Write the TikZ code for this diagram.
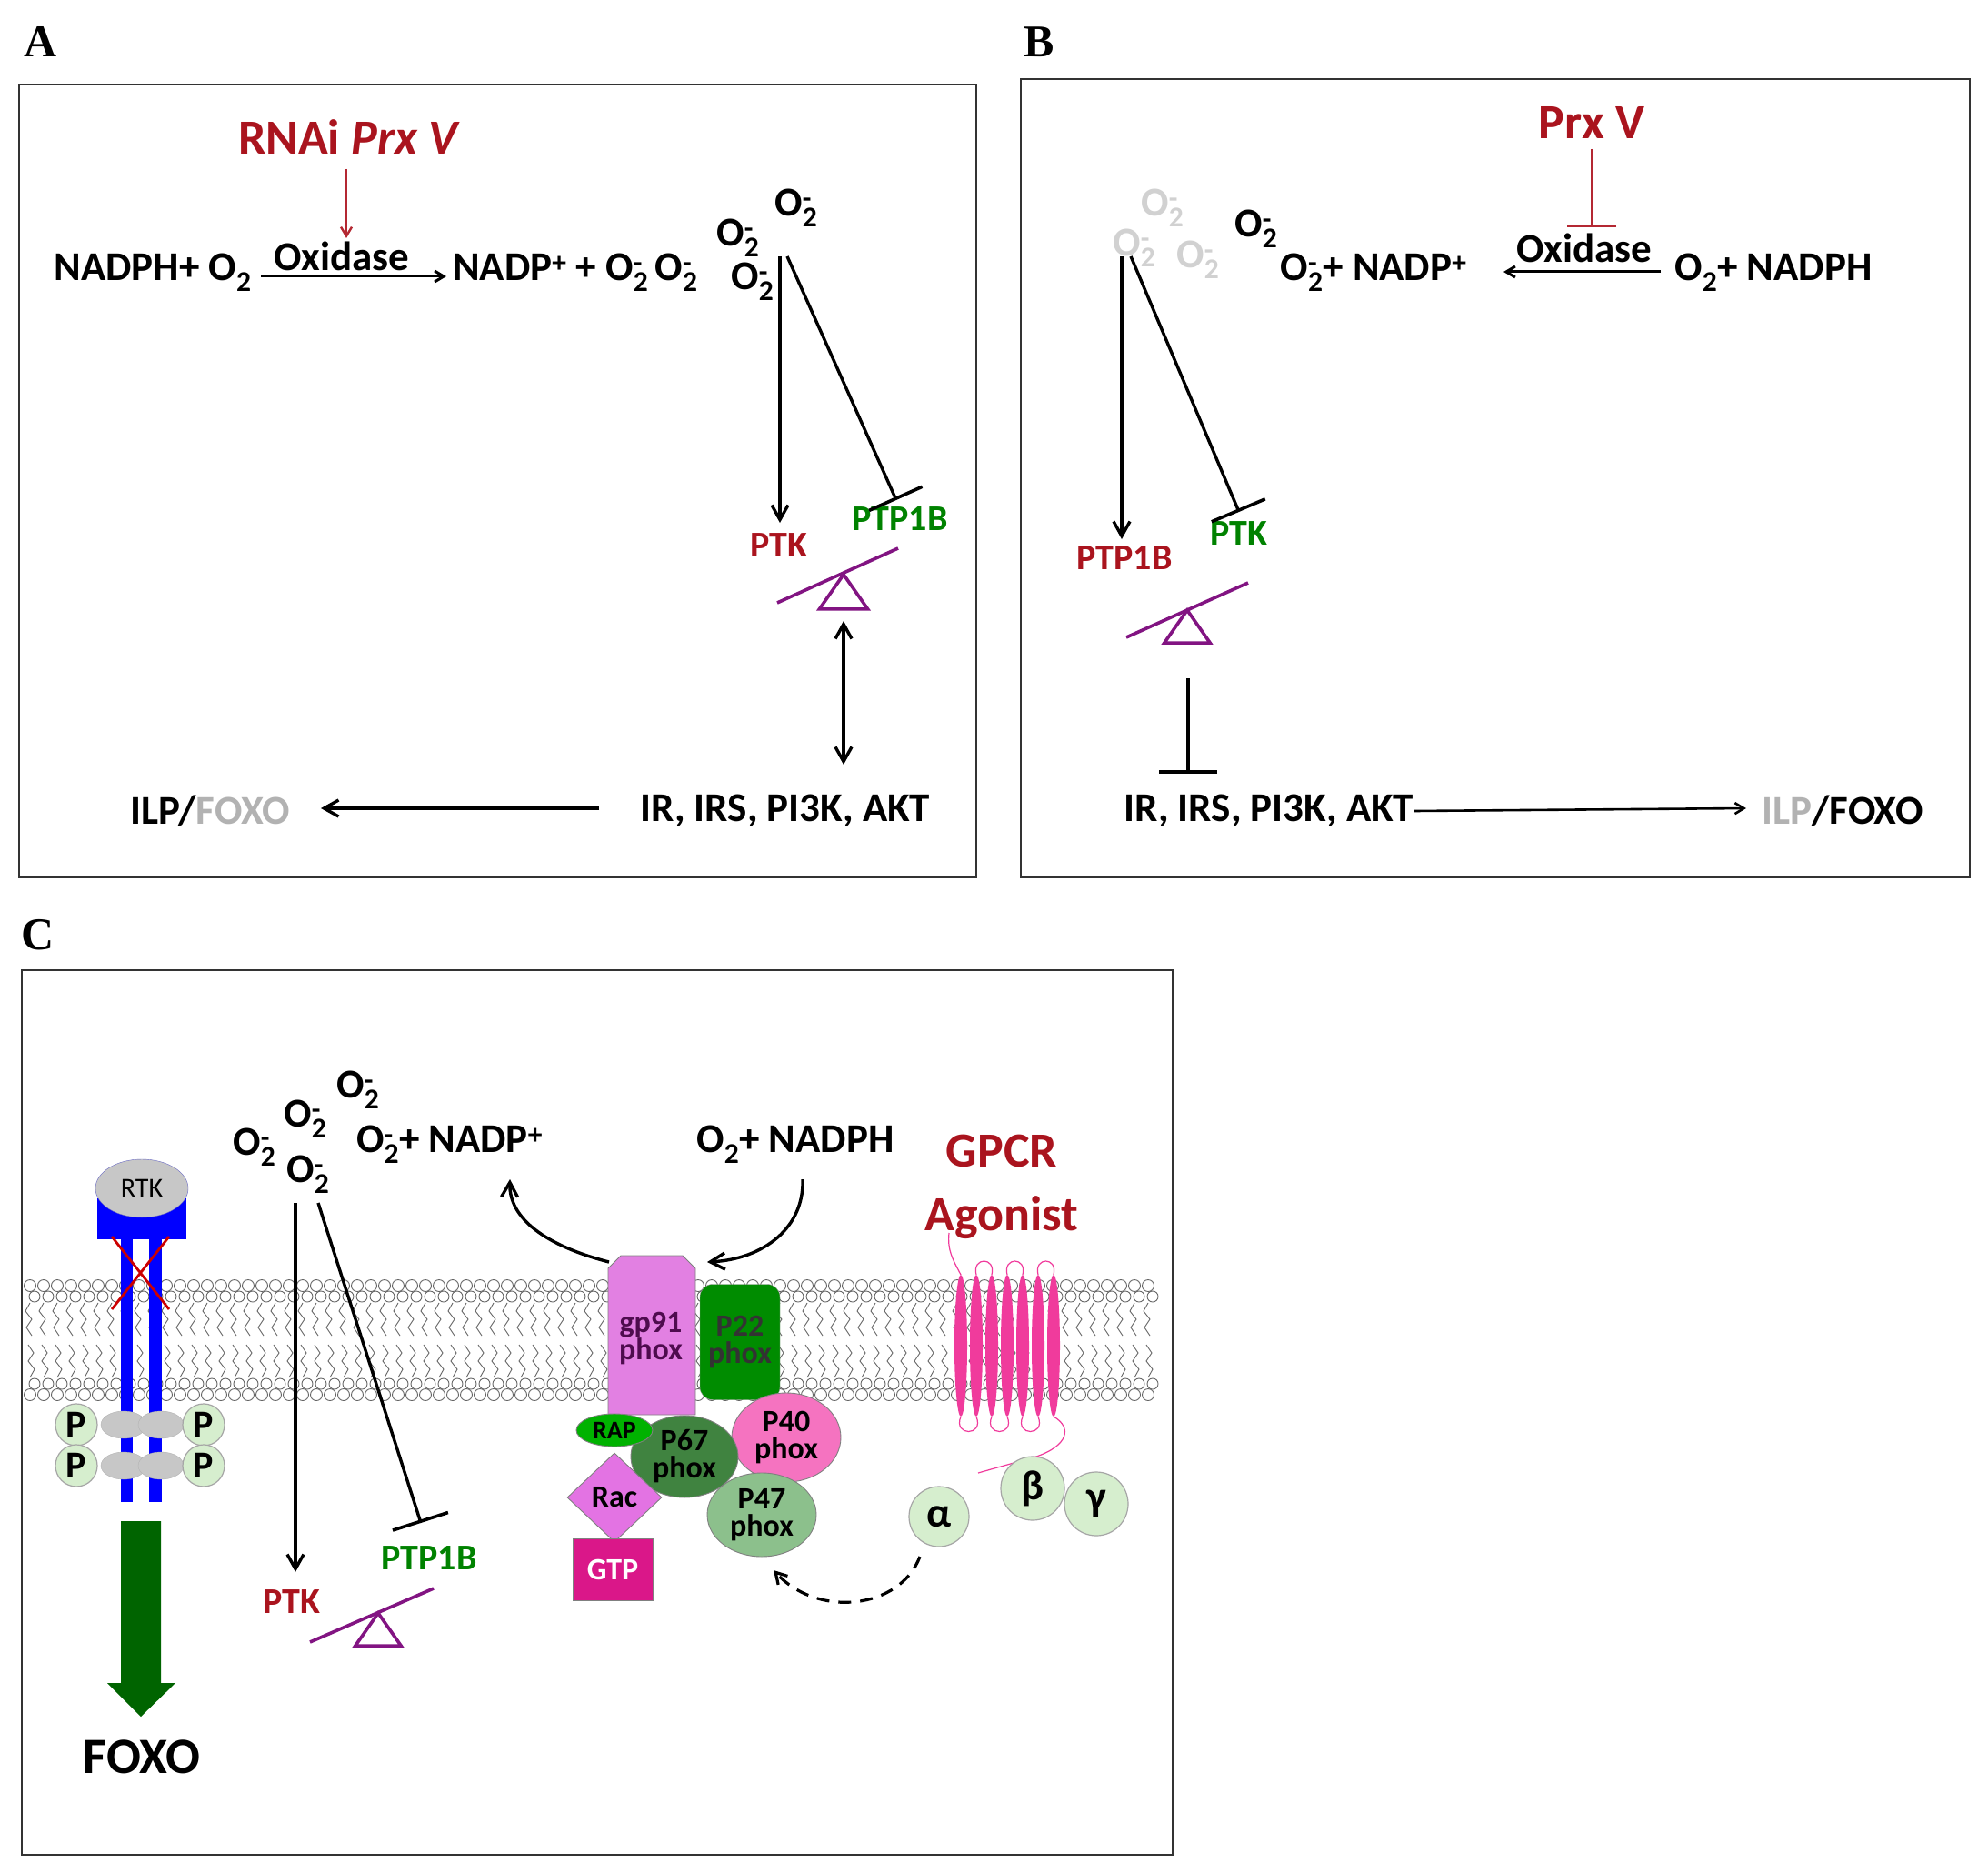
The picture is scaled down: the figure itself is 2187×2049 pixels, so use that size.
\documentclass[tikz,border=0pt]{standalone}
\usepackage{fontspec}
\setmainfont{Carlito}
\newfontfamily\tms{Liberation Serif}
\usetikzlibrary{arrows.meta,shapes.geometric,shapes.misc}
\definecolor{dred}{RGB}{170,20,30}
\definecolor{mred}{RGB}{180,40,50}
\definecolor{dgr}{RGB}{0,130,0}
\definecolor{purp}{RGB}{130,20,130}
\definecolor{lgr}{RGB}{214,238,206}
\definecolor{fgreen}{RGB}{0,100,0}
\newcommand{\Om}{O\rlap{\textsuperscript{-}}\textsubscript{2}}
\begin{document}
\begin{tikzpicture}[x=1pt,y=-1pt,
 t/.style={inner sep=0pt,font=\fontsize{45}{48}\selectfont\bfseries},
 ts/.style={inner sep=0pt,font=\fontsize{40}{42}\selectfont\bfseries},
 tb/.style={inner sep=0pt,font=\fontsize{54}{58}\selectfont\bfseries},
 pt/.style={font=\fontsize{34}{34}\selectfont\bfseries,align=center},
 lab/.style={inner sep=0pt,font=\fontsize{50}{52}\selectfont\tms\bfseries},
 panel/.style={draw=black!80,line width=2pt},
 ar/.style={line width=3.4pt,-{Straight Barb[length=16pt,width=18pt]}},
 tbar/.style={line width=3.4pt,-{Bar[width=64pt,line width=3.6pt]}},
 saw/.style={purp,line width=3.6pt},
 tri/.style={draw=purp,line width=3.6pt,fill=white},
 head/.style={draw=black!60,line width=0.9pt,fill=white},
 prot/.style={draw=black!50,line width=0.9pt},
 sub/.style={draw=black!35,fill=lgr,line width=1.2pt,circle,inner sep=0pt,minimum size=66pt,font=\fontsize{46}{46}\selectfont\bfseries}
]
\useasboundingbox (0,0) rectangle (2187,2049);
\fill[white] (0,0) rectangle (2187,2049);
% panel labels and frames
\node[lab] (LA) at (45,46) {A};
\node[lab] (LB) at (1143,46) {B};
\node[lab] (LC) at (42,1028) {C};
\draw[panel] (21,93) rectangle (1074,965);
\draw[panel] (1123,87) rectangle (2167,965);
\draw[panel] (24,1067) rectangle (1290,2040);

% ---------- Panel A ----------
\node[tb,dred] (rnai) at (384,151) {RNAi \textit{Prx V}};
\node[t] (nadphA) at (168,300) {NADPH+ O\textsubscript{2}};
\node[t] (oxA) at (376,282) {Oxidase};
\node[t,anchor=west] (prodA) at (498,300) {NADP\textsuperscript{+} + \Om\,\Om};
\node[t] (oA1) at (876,229) {\Om};
\node[t] (oA2) at (812,262) {\Om};
\node[t] (oA3) at (828,310) {\Om};
\coordinate (ox1) at (287,304); \coordinate (ox2) at (491,304);
\draw[line width=3pt,-{Straight Barb[length=10pt,width=12pt]}] (ox1) -- (ox2);
\coordinate (rn1) at (381,186);
\draw[mred,line width=2.4pt,-{Straight Barb[length=10pt,width=12pt]}] (rn1) -- (381,262);
\node[ts,dred] (ptkA) at (857,600) {PTK};
\node[ts,dgr] (ptpA) at (990,571) {PTP1B};
\coordinate (sA1) at (858,282); \coordinate (sA2) at (866,282);
\draw[ar] (sA1) -- (858,575);
\draw[tbar] (sA2) -- (986,550);
\coordinate (swA1) at (855,663); \coordinate (swA2) at (988,603);
\draw[saw] (swA1) -- (swA2);
\node[tri,isosceles triangle,shape border rotate=90,isosceles triangle apex angle=70,minimum height=38pt,minimum width=44pt,inner sep=0pt] (triA) at (928,656) {};
\node[t] (irA) at (864,892) {IR, IRS, PI3K, AKT};
\node[t] (ilpA) at (231,892) {ILP/\textcolor{black!30}{FOXO}};
\draw[line width=3.4pt,{Straight Barb[length=16pt,width=18pt]}-{Straight Barb[length=16pt,width=18pt]}] (928,683) -- (928,841);
\draw[ar] (659,889) -- (353,889);

% ---------- Panel B ----------
\node[tb,dred] (prx) at (1751,135) {Prx V};
\node[t] (oxB) at (1743,273) {Oxidase};
\node[t] (nadphB) at (1951,300) {O\textsubscript{2}+ NADPH};
\node[t] (nadpB) at (1511,300) {\Om+ NADP\textsuperscript{+}};
\draw[mred,line width=2.6pt,-{Bar[width=54pt,line width=2.8pt]}] (1751,164) -- (1751,250);
\draw[line width=3pt,-{Straight Barb[length=10pt,width=12pt]}] (1827,299) -- (1654,299);
\node[t,black!18] (oB1) at (1279,229) {\Om};
\node[t,black!18] (oB3) at (1248,273) {\Om};
\node[t,black!18] (oB4) at (1318,286) {\Om};
\node[t] (oB2) at (1382,252) {\Om};
\node[ts,dred] (ptpB) at (1237,614) {PTP1B};
\node[ts,dgr] (ptkB) at (1363,587) {PTK};
\coordinate (sB1) at (1234,282); \coordinate (sB2) at (1244,282);
\draw[ar] (sB1) -- (1234,593);
\draw[tbar] (sB2) -- (1363,563);
\draw[saw] (1239,701) -- (1373,641);
\node[tri,isosceles triangle,shape border rotate=90,isosceles triangle apex angle=70,minimum height=36pt,minimum width=44pt,inner sep=0pt] (triB) at (1306,694) {};
\node[t] (irB) at (1396,892) {IR, IRS, PI3K, AKT};
\node[t] (ilpB) at (2027,892) {\textcolor{black!30}{ILP}/FOXO};
\draw[tbar] (1307,746) -- (1307,851);
\draw[line width=2.6pt,-{Straight Barb[length=10pt,width=12pt]}] (irB.east) -- (1921,889);

% ---------- Panel C ----------
% membrane
\foreach \x in {33,48,...,1273}{
  \draw[head] (\x,1414) circle (6.5);
  \draw[head] (\x+5,1426) circle (6);
  \draw[black!60,line width=0.9pt] (\x,1433) -- ++(-5,9) -- ++(7,9) -- ++(-6,9) -- ++(6,9);
  \draw[head] (\x,1534) circle (6.5);
  \draw[head] (\x+5,1522) circle (6);
  \draw[black!60,line width=0.9pt] (\x,1515) -- ++(5,-9) -- ++(-7,-9) -- ++(6,-9) -- ++(-6,-9);
}
% RTK
\fill[blue] (107,1318) rectangle (205,1363);
\fill[blue] (133,1363) rectangle (146,1652);
\fill[blue] (164,1363) rectangle (178,1652);
\node[ellipse,draw=blue!60!black!60,fill=black!22,minimum width=102pt,minimum height=64pt,inner sep=0pt,font=\fontsize{30}{30}\selectfont] (rtk) at (156,1307) {RTK};
\draw[red!80!black,line width=2.8pt] (123,1360) -- (186,1440) (186,1360) -- (123,1440);
\foreach \xx/\yy [count=\i] in {136/1567,177/1567,136/1612,177/1612}
  \node[ellipse,fill=black!22,draw=black!30,minimum width=50pt,minimum height=30pt,inner sep=0pt] (g\i) at (\xx,\yy) {};
\foreach \xx/\yy [count=\i] in {84/1567,224/1567,84/1612,224/1612}
  \node[sub,minimum size=46pt,font=\fontsize{42}{42}\selectfont\bfseries] (p\i) at (\xx,\yy) {P};
\fill[fgreen] (133,1673) -- (177,1673) -- (177,1851) -- (193,1851) -- (155,1888) -- (118,1851) -- (133,1851) -- cycle;
\node[t,font=\fontsize{56}{58}\selectfont\bfseries] (foxo) at (156,1932) {FOXO};
% superoxide
\node[t] (oC1) at (394,1199) {\Om};
\node[t] (oC2) at (336,1231) {\Om};
\node[t] (oC3) at (280,1262) {\Om};
\node[t] (oC4) at (339,1292) {\Om};
\node[t,anchor=west] (nadpC) at (392,1259) {\Om+ NADP\textsuperscript{+}};
\node[t] (nadphC) at (875,1259) {O\textsubscript{2}+ NADPH};
\coordinate (sC1) at (325,1323); \coordinate (sC2) at (350,1323);
\draw[ar] (sC1) -- (325,1729);
\draw[tbar] (sC2) -- (463,1675);
\node[ts,dred] (ptkC) at (321,1762) {PTK};
\node[ts,dgr] (ptpC) at (472,1713) {PTP1B};
\draw[saw] (341,1806) -- (477,1747);
\node[tri,isosceles triangle,shape border rotate=90,isosceles triangle apex angle=70,minimum height=36pt,minimum width=44pt,inner sep=0pt] (triC) at (416,1797) {};
% NOX complex
\draw[prot,fill=violet!45!magenta!50] (669,1395) -- (683,1381) -- (751,1381) -- (765,1395) -- (765,1556) -- (669,1556) -- cycle;
\node[pt,inner sep=0pt,text=purp!60!black] (gp91) at (716,1472) {gp91\\[-4pt]phox};
\node[rectangle,rounded corners=14pt,draw=black!40,fill=green!55!black,minimum width=88pt,minimum height=127pt,inner sep=0pt,pt,text=black!80] (p22) at (814,1476) {P22\\[-4pt]phox};
\node[ellipse,prot,fill=magenta!55,minimum width=120pt,minimum height=98pt,inner sep=0pt,pt] (p40) at (865,1581) {P40\\[-4pt]phox};
\node[ellipse,prot,fill=green!35!black!75,minimum width=118pt,minimum height=90pt,inner sep=0pt,pt] (p67) at (753,1602) {P67\\[-4pt]phox};
\node[ellipse,prot,fill=green!70!black,minimum width=84pt,minimum height=36pt,inner sep=0pt,font=\fontsize{28}{28}\selectfont\bfseries] (rap) at (676,1573) {RAP};
\node[diamond,prot,fill=violet!40!magenta!55,minimum width=104pt,minimum height=98pt,inner sep=0pt,pt] (rac) at (676,1647) {Rac};
\node[ellipse,prot,fill=green!45!black!45,minimum width=120pt,minimum height=92pt,inner sep=0pt,pt] (p47) at (838,1666) {P47\\[-4pt]phox};
\node[rectangle,prot,fill=magenta!90!black,minimum width=88pt,minimum height=68pt,inner sep=0pt,text=white,pt] (gtp) at (674,1726) {GTP};
\draw[ar] (670,1388) .. controls (600,1370) and (560,1340) .. (561,1297);
\draw[ar] (883,1297) .. controls (885,1350) and (840,1385) .. (778,1388);
% GPCR
\node[tb,dred] (gpcr) at (1102,1266) {GPCR};
\node[tb,dred] (agon) at (1102,1339) {Agonist};
\foreach \i in {0,...,6}
  \fill[magenta!70!pink] (1057+\i*17,1480) ellipse (7 and 78);
\foreach \a in {1,3,5}
  \draw[magenta!70!pink,line width=1.2pt] (1057+\a*17,1402) .. controls (1052+\a*17,1382) and (1079+\a*17,1382) .. (1074+\a*17,1402);
\foreach \a in {0,2,4}
  \draw[magenta!70!pink,line width=1.2pt] (1057+\a*17,1558) .. controls (1048+\a*17,1580) and (1083+\a*17,1580) .. (1074+\a*17,1558);
\draw[magenta!70!pink,line width=1.2pt] (1057,1402) .. controls (1048,1385) and (1042,1375) .. (1044,1356);
\draw[magenta!70!pink,line width=1.2pt] (1159,1558) .. controls (1180,1570) and (1175,1590) .. (1140,1602) -- (1076,1620);
\node[sub] (alpha) at (1033,1668) {α};
\node[sub,minimum size=70pt] (beta) at (1136,1637) {β};
\node[sub,minimum size=70pt] (gamma) at (1206,1654) {γ};
\coordinate (da) at (1012,1712);
\draw[line width=3.2pt,dash pattern=on 14pt off 10pt,-{Straight Barb[length=12pt,width=14pt]}] (da) .. controls (990,1770) and (900,1780) .. (851,1727);
\end{tikzpicture}
\end{document}
